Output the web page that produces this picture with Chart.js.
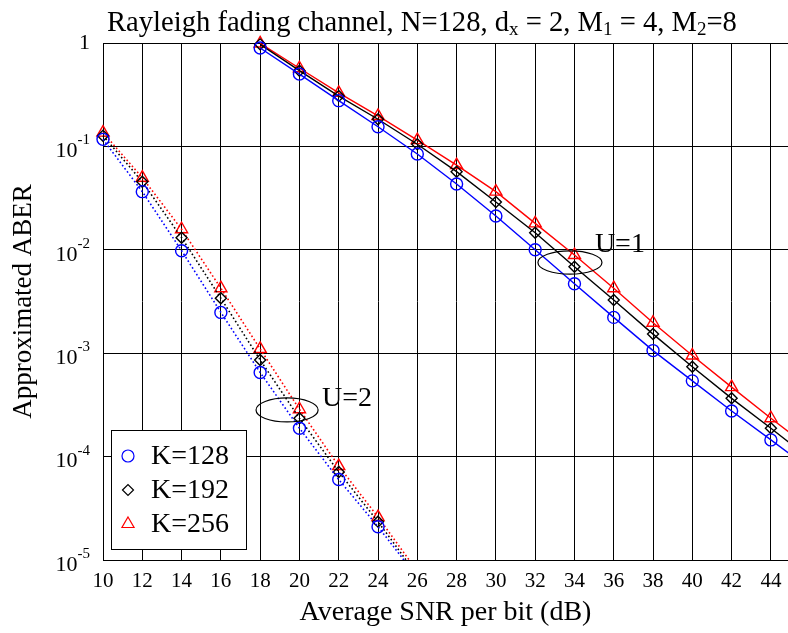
<!DOCTYPE html>
<html>
<head>
<meta charset="utf-8">
<script src="https://cdn.jsdelivr.net/npm/chart.js@4/dist/chart.umd.min.js"></script>
<style>
  html, body { margin: 0; padding: 0; background: #fff; }
  canvas { display: block; }
</style>
</head>
<body>
<canvas id="c" width="788" height="633"></canvas>
<script>
// SNR grid (dB)
const snrU1 = [18, 20, 22, 24, 26, 28, 30, 32, 34, 36, 38, 40, 42, 44, 46];
const snrU2 = [10, 12, 14, 16, 18, 20, 22, 24, 26];

// Approximated ABER, U = 1
const aberU1K128 = [0.895, 0.50, 0.277, 0.155, 0.0845, 0.0433, 0.0212, 0.0100, 0.0047, 0.00222, 0.00106, 0.00054, 0.000276, 0.000145, 0.000076];
const aberU1K192 = [0.97, 0.54, 0.307, 0.183, 0.105, 0.057, 0.029, 0.0146, 0.00687, 0.00327, 0.00153, 0.00074, 0.000366, 0.000188, 0.000095];
const aberU1K256 = [0.99, 0.57, 0.33, 0.197, 0.115, 0.066, 0.0365, 0.018, 0.0089, 0.00425, 0.00197, 0.00095, 0.00047, 0.000235, 0.00012];

// Approximated ABER, U = 2
const aberU2K128 = [0.117, 0.0365, 0.0098, 0.00248, 0.00065, 0.000188, 6.0e-5, 2.1e-5, 6.8e-6];
const aberU2K192 = [0.127, 0.0456, 0.0131, 0.0034, 0.00086, 0.000235, 7.1e-5, 2.35e-5, 7.1e-6];
const aberU2K256 = [0.136, 0.0498, 0.0158, 0.00425, 0.0011, 0.000287, 8.1e-5, 2.6e-5, 7.8e-6];

// Axis ticks
const xTickValues = [10, 12, 14, 16, 18, 20, 22, 24, 26, 28, 30, 32, 34, 36, 38, 40, 42, 44];
const yTickExponents = [0, -1, -2, -3, -4, -5];

const seriesLabels = ['K=128', 'K=192', 'K=256'];

const SERIF = '"Liberation Serif", "Times New Roman", serif';
const BLUE = '#0000ff';
const BLACK = '#000000';
const RED = '#ff0000';
const NONE = 'rgba(0,0,0,0)';

const markers = [
  { color: BLUE, style: 'circle', radius: 6 },
  { color: BLACK, style: 'rectRot', radius: 5.5 },
  { color: RED, style: 'triangle', radius: 7 }
];

function series(label, xs, ys, m, dotted) {
  return {
    label: label,
    data: xs.map((x, i) => ({ x: x, y: ys[i] })),
    borderColor: m.color,
    backgroundColor: NONE,
    borderWidth: dotted ? 1.6 : 1.4,
    borderDash: dotted ? [1.6, 2.4] : [],
    pointStyle: m.style,
    pointRadius: m.radius,
    pointHoverRadius: m.radius,
    pointBorderColor: m.color,
    pointBackgroundColor: NONE,
    pointBorderWidth: 1.4,
    tension: 0,
    fill: false,
    clip: { left: 10, top: 10, right: 0, bottom: 0 }
  };
}

const datasets = [
  series(seriesLabels[0], snrU1, aberU1K128, markers[0], false),
  series(seriesLabels[1], snrU1, aberU1K192, markers[1], false),
  series(seriesLabels[2], snrU1, aberU1K256, markers[2], false),
  series(seriesLabels[0], snrU2, aberU2K128, markers[0], true),
  series(seriesLabels[1], snrU2, aberU2K192, markers[1], true),
  series(seriesLabels[2], snrU2, aberU2K256, markers[2], true)
];

// Group annotations: ellipse around the U=1 / U=2 marker groups (data coordinates)
const groupNotes = [
  { text: 'U=1', cx: 33.77, cyLog: -2.123, rx: 1.63, ryLog: 0.113, tx: 35.04, tyLog: -1.954 },
  { text: 'U=2', cx: 19.37, cyLog: -3.549, rx: 1.58, ryLog: 0.116, tx: 21.15, tyLog: -3.443 }
];

// Title with subscripts
const titleParts = [
  { t: 'Rayleigh fading channel, N=128, d' }, { t: 'x', sub: true },
  { t: ' = 2, M' }, { t: '1', sub: true },
  { t: ' = 4, M' }, { t: '2', sub: true },
  { t: '=8' }
];

const decorPlugin = {
  id: 'decor',
  afterDraw(chart) {
    const ctx = chart.ctx;
    const ys = chart.scales.y;
    const area = chart.chartArea;
    ctx.save();
    ctx.fillStyle = '#000';

    // title
    const mainFont = '28.6px ' + SERIF, subFont = '19px ' + SERIF;
    let tx = 107;
    const tb = 31;
    ctx.textBaseline = 'alphabetic';
    ctx.textAlign = 'left';
    titleParts.forEach(p => {
      ctx.font = p.sub ? subFont : mainFont;
      ctx.fillText(p.t, tx, p.sub ? tb + 4 : tb);
      tx += ctx.measureText(p.t).width;
    });

    // y tick labels as powers of ten
    yTickExponents.forEach(e => {
      const gy = ys.getPixelForValue(Math.pow(10, e));
      const right = area.left - 13;
      ctx.textAlign = 'right';
      ctx.textBaseline = 'middle';
      if (e === 0) {
        ctx.font = '22px ' + SERIF;
        ctx.fillText('1', right, gy);
      } else {
        ctx.font = '15px ' + SERIF;
        const exp = String(e);
        const ew = ctx.measureText(exp).width;
        ctx.fillText(exp, right, gy - 6);
        ctx.font = '22px ' + SERIF;
        ctx.fillText('10', right - ew, gy + 5);
      }
    });
    ctx.restore();
  },
  afterDatasetsDraw(chart) {
    const ctx = chart.ctx;
    const xs = chart.scales.x, ys = chart.scales.y;
    const area = chart.chartArea;
    ctx.save();

    // group ellipses and labels
    groupNotes.forEach(n => {
      const cx = xs.getPixelForValue(n.cx);
      const cy = ys.getPixelForValue(Math.pow(10, n.cyLog));
      const rx = xs.getPixelForValue(n.cx + n.rx) - cx;
      const ry = cy - ys.getPixelForValue(Math.pow(10, n.cyLog + n.ryLog));
      ctx.beginPath();
      ctx.ellipse(cx, cy, rx, ry, 0, 0, Math.PI * 2);
      ctx.strokeStyle = '#000';
      ctx.lineWidth = 1.2;
      ctx.stroke();
      ctx.font = '28px ' + SERIF;
      ctx.fillStyle = '#000';
      ctx.textAlign = 'left';
      ctx.textBaseline = 'middle';
      ctx.fillText(n.text, xs.getPixelForValue(n.tx), ys.getPixelForValue(Math.pow(10, n.tyLog)));
    });

    // legend box
    const bx = area.left + 8, by = area.bottom - 130, bw = 135, bh = 119;
    ctx.fillStyle = '#fff';
    ctx.fillRect(bx, by, bw, bh);
    ctx.strokeStyle = '#000';
    ctx.lineWidth = 1;
    ctx.strokeRect(bx + 0.5, by + 0.5, bw, bh);
    for (let i = 0; i < 3; i++) {
      const dsm = chart.data.datasets[i];
      const y = by + 26 + i * 34;
      ctx.strokeStyle = dsm.pointBorderColor;
      ctx.fillStyle = NONE;
      ctx.lineWidth = 1.2;
      Chart.helpers.drawPoint(ctx, { pointStyle: dsm.pointStyle, rotation: 0, radius: dsm.pointRadius, borderWidth: 1.2 }, bx + 17, y);
      ctx.fillStyle = '#000';
      ctx.font = '28px ' + SERIF;
      ctx.textAlign = 'left';
      ctx.textBaseline = 'middle';
      ctx.fillText(dsm.label, bx + 40, y + 1);
    }
    ctx.restore();
  }
};

new Chart(document.getElementById('c'), {
  type: 'line',
  data: { datasets: datasets },
  plugins: [decorPlugin],
  options: {
    responsive: false,
    animation: false,
    devicePixelRatio: 1,
    layout: { autoPadding: false, padding: { top: 43, left: 0, right: 0, bottom: 0 } },
    plugins: { legend: { display: false }, title: { display: false }, tooltip: { enabled: false } },
    scales: {
      x: {
        type: 'linear',
        min: 10,
        max: 44.87,
        afterBuildTicks: s => { s.ticks = xTickValues.map(v => ({ value: v })); },
        afterFit: s => { s.height = 73; s.paddingLeft = 0; s.paddingRight = 0; },
        ticks: { font: { family: SERIF, size: 21 }, color: '#000', padding: 9, maxRotation: 0, autoSkip: false },
        grid: { color: '#000', lineWidth: 1, drawTicks: false },
        border: { color: '#000', width: 1 },
        title: { display: true, text: 'Average SNR per bit (dB)', color: '#000', font: { family: SERIF, size: 28 }, padding: { top: 0, bottom: 4 } }
      },
      y: {
        type: 'logarithmic',
        min: 1e-5,
        max: 1,
        afterBuildTicks: s => { s.ticks = yTickExponents.map(e => ({ value: Math.pow(10, e) })); },
        afterFit: s => { s.width = 103; s.paddingTop = 0; s.paddingBottom = 0; },
        ticks: { display: false },
        grid: { color: '#000', lineWidth: 1, drawTicks: false },
        border: { color: '#000', width: 1 },
        title: { display: true, text: 'Approximated ABER', color: '#000', font: { family: SERIF, size: 27 }, padding: { top: 8, bottom: 0 } }
      }
    }
  }
});
</script>
</body>
</html>
